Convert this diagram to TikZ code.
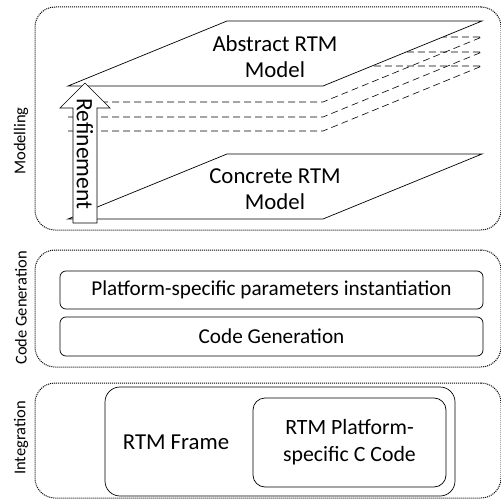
\documentclass[tikz,border=0pt]{standalone}
\usepackage{fontspec}
\setmainfont{Carlito}
\usetikzlibrary{calc}
\begin{document}
\begin{tikzpicture}[x=1pt,y=-1pt,line width=0.7pt,
  grp/.style={draw,densely dotted,line width=1pt,rounded corners=20pt,inner sep=0pt},
  plane/.style={draw,fill=white,line width=0.7pt},
  hidden/.style={draw,dash pattern=on 7pt off 4pt,line width=0.6pt},
  box/.style={draw,rounded corners=6pt,line width=0.7pt,inner sep=0pt},
  lbl/.style={font=\fontsize{16.5}{19}\selectfont,rotate=90},
  txt/.style={font=\fontsize{22.8}{26}\selectfont,align=center},
  btxt/.style={font=\fontsize{21.2}{24}\selectfont,align=center}]
\useasboundingbox (0,0) rectangle (501,500);

% group frames
\node (mod) [grp,minimum width=466pt,minimum height=223pt] at (268,118.5) {};
\node (cg)  [grp,minimum width=466pt,minimum height=117pt] at (268,308.5) {};
\node (int) [grp,minimum width=466pt,minimum height=115pt] at (268,440.5) {};
\node (modl) [lbl] at (21,141) {Modelling};
\node (cgl)  [lbl] at (21,308) {Code Generation};
\node (intl) [lbl] at (21,438) {Integration};

% hidden intermediate planes
\foreach \y in {102,117,131}{
  \draw[hidden] (68,\y) -- (323,\y) -- ($(323,\y)+(159,-65)$) -- ($(227,\y)+(0,-65)$);
}
% abstract plane
\coordinate (a1) at (68,86);
\coordinate (a2) at (227,21);
\coordinate (a3) at (482,21);
\coordinate (a4) at (323,86);
\draw[plane] (a1) -- (a2) -- (a3) -- (a4) -- cycle;
\node (abs) [txt] at (275,57) {Abstract RTM\\Model};
% concrete plane
\coordinate (c1) at (68,219);
\coordinate (c2) at (227,154);
\coordinate (c3) at (482,154);
\coordinate (c4) at (323,219);
\draw[plane] (c1) -- (c2) -- (c3) -- (c4) -- cycle;
\node (con) [txt] at (275,189) {Concrete RTM\\Model};

% refinement arrow
\draw[fill=white,line width=0.7pt] (73,223) -- (73,108) -- (60,108) -- (85,83) -- (110,108) -- (97,108) -- (97,223) -- cycle;
\node (ref) [font=\fontsize{23.5}{26}\selectfont,rotate=-90,inner sep=0pt] at (85,154) {Refinement};

% code generation
\node (psp) [box,btxt,minimum width=423pt,minimum height=38pt] at (271.5,290) {Platform-specific parameters instantiation};
\node (cgb) [box,btxt,minimum width=423pt,minimum height=39pt] at (271.5,336.5) {Code Generation};

% integration
\node (frame) [draw,rounded corners=15pt,line width=0.7pt,minimum width=350pt,minimum height=109pt,inner sep=0pt] at (280,441.5) {};
\node (frt) [txt] at (176,442) {RTM Frame};
\node (plat) [draw,rounded corners=12pt,line width=0.7pt,minimum width=193pt,minimum height=89pt,inner sep=0pt,font=\fontsize{21.8}{27}\selectfont,align=center] at (349.5,442.5) {RTM Platform-\\specific C Code};
\end{tikzpicture}
\end{document}
